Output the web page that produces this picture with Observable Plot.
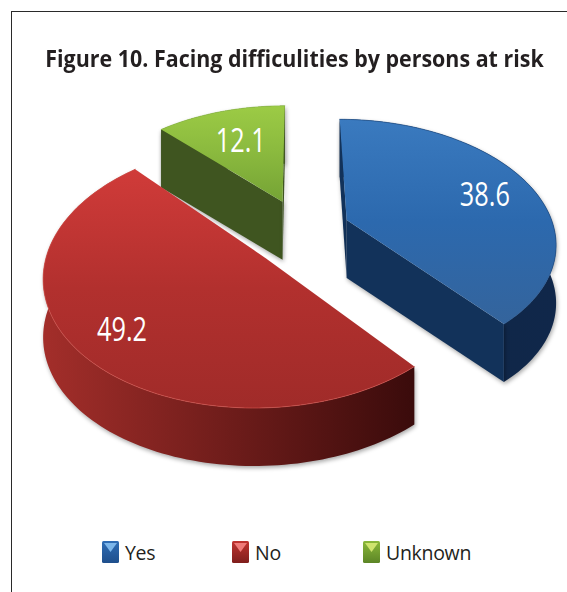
<!DOCTYPE html>
<html>
<head>
<meta charset="utf-8">
<script src="https://cdn.jsdelivr.net/npm/d3@7"></script>
<script src="https://cdn.jsdelivr.net/npm/@observablehq/plot@0.6"></script>
<style>
html,body{margin:0;padding:0;background:#fff;overflow:hidden;width:567px;height:592px}
#frame{position:absolute;left:11px;top:11px;right:0;bottom:0;border-left:1.5px solid #2a2a2a;border-top:1.5px solid #2a2a2a}
#title{position:absolute;left:0;width:589px;top:43px;text-align:center;font:700 24px "Open Sans",sans-serif;color:#231f20;white-space:nowrap;line-height:30px;transform:scaleX(.893);transform-origin:center}
#chart{position:absolute;left:0;top:0}
.lg{position:absolute;top:541px;height:22px;display:flex;align-items:center;font:400 19.5px "Open Sans",sans-serif;color:#231f20;letter-spacing:-.3px}
.lg svg{margin-right:6px}
</style>
</head>
<body>
<div id="frame"></div>
<div id="chart"></div>
<div id="title">Figure 10. Facing difficulities by persons at risk</div>
<div id="legend"></div>
<script>
const categories = ["Yes", "No", "Unknown"];
const shares = [38.6, 49.2, 12.1];
const labels = ["38.6", "49.2", "12.1"];

// Picture styling, one entry per category
const topStops = [["#3a7abf", "#2c69ae", "#34649c"], ["#d03b39", "#b2302e", "#a02b29"], ["#9ccb45", "#8ab93e", "#75a335"]];
const wallStops = [["#0f2745", "#10274a"], ["#a32e2a", "#3a0b0b"], ["#3f5520", "#3f5520"]];
const faceColors = ["#12325a", "#4a1010", "#3f5520"];
const edgeColors = ["#1f4f88", "#d0504a", "#8fbf44"];
const swatchColors = [["#2f6db5", "#1f4f8c", "#7cb6ea"], ["#c0332f", "#7f1e1c", "#ef7a78"], ["#8bb83a", "#5c8526", "#cfe46e"]];

// Layout of the exploded pie in its ground plane
const explode = [[0.235, -0.06], [-0.17, 0.2], [-0.08, -0.22]];
const apexNudge = [[0, 0], [0.02, 0.05], [0, 0]];
const labelRadius = [0.75, 0.78, 0.64];
const labelShift = [3, 5, 0];
const hasFaces = [true, false, true];
const cx = 298, cy = 226.6, rx = 207, ry = 120, persp = 0.17, depth = 58, warp = 2;

const total = d3.sum(shares);
const project = (gx, gy, drop = 0) => {
  const w = 1 - persp * gy;
  return {x: cx + rx * gx / w, y: cy + ry * gy / w + drop};
};
const warped = (deg) => deg + warp * Math.max(0, Math.sin(deg * Math.PI / 180));
const rimPoint = (i, deg, r = 1, drop = 0) => {
  const a = warped(deg) * Math.PI / 180;
  return project(explode[i][0] + r * Math.sin(a), explode[i][1] - r * Math.cos(a), drop);
};
const apex = (i, drop = 0) => project(explode[i][0] + apexNudge[i][0], explode[i][1] + apexNudge[i][1], drop);

let acc = 0;
const slices = shares.map((v, i) => {
  const start = acc / total * 360;
  acc += v;
  return {i, start, end: acc / total * 360};
});
const arc = (s, drop = 0) => d3.range(0, 121).map(k => rimPoint(s.i, s.start + (s.end - s.start) * k / 120, 1, drop));

const poly = (points, fill, extra = {}) =>
  Plot.line(points, {x: "x", y: "y", curve: "linear-closed", fill, stroke: "none", ...extra});

const shadow = "drop-shadow(1px 2px 2px rgba(0,0,0,.35))";
const marks = [];
marks.push(() => {
  const defs = d3.create("svg:defs");
  categories.forEach((c, i) => {
    const t = defs.append("linearGradient").attr("id", "top" + i).attr("x1", 0).attr("x2", 0).attr("y1", 0).attr("y2", 1);
    topStops[i].forEach((col, k) => t.append("stop").attr("offset", k / 2).attr("stop-color", col));
    const w = defs.append("linearGradient").attr("id", "wall" + i).attr("x1", 0).attr("x2", 1).attr("y1", 0).attr("y2", 0);
    wallStops[i].forEach((col, k) => w.append("stop").attr("offset", k).attr("stop-color", col));
  });
  return defs.node();
});
[2, 0, 1].forEach(i => {
  const s = slices[i];
  const top = arc(s);
  const bottom = arc(s, depth);
  marks.push(poly([...top, ...bottom.slice().reverse()], `url(#wall${i})`, {imageFilter: shadow}));
  if (hasFaces[i]) [s.start, s.end].forEach(deg => {
    marks.push(poly([apex(i), rimPoint(i, deg), rimPoint(i, deg, 1, depth), apex(i, depth)], faceColors[i], {imageFilter: shadow}));
  });
  marks.push(poly([apex(i), ...top], `url(#top${i})`));
  marks.push(Plot.line(top, {x: "x", y: "y", stroke: edgeColors[i], strokeWidth: 1, strokeOpacity: 0.7}));
});
const labelData = slices.map(s => {
  const p = rimPoint(s.i, (s.start + s.end) / 2, labelRadius[s.i]);
  return {x: p.x, y: p.y + labelShift[s.i], text: labels[s.i]};
});
marks.push(Plot.text(labelData, {
  x: "x", y: "y", text: "text", fill: "white", fontSize: 32,
  fontFamily: "'Open Sans', sans-serif", textAnchor: "middle", lineAnchor: "middle"
}));

const plot = Plot.plot({
  width: 567, height: 592,
  margin: 0, marginTop: 0, marginBottom: 0, marginLeft: 0, marginRight: 0,
  x: {domain: [0, 567], range: [0, 567], axis: null},
  y: {domain: [0, 592], range: [0, 592], axis: null},
  style: {background: "transparent"},
  marks
});
d3.select(plot).selectAll("text").attr("textLength", 50).attr("lengthAdjust", "spacingAndGlyphs");
document.getElementById("chart").appendChild(plot);

// legend
const lgX = [102, 232, 363];
const legend = d3.select("#legend");
categories.forEach((c, i) => {
  const d = legend.append("div").attr("class", "lg").style("left", lgX[i] + "px");
  const sv = d.append("svg").attr("width", 17).attr("height", 22);
  const id = "sw" + i;
  const g = sv.append("defs").append("linearGradient").attr("id", id).attr("x1", 0).attr("x2", 0).attr("y1", 0).attr("y2", 1);
  g.append("stop").attr("offset", 0).attr("stop-color", swatchColors[i][0]);
  g.append("stop").attr("offset", 1).attr("stop-color", swatchColors[i][1]);
  sv.append("rect").attr("width", 17).attr("height", 22).attr("rx", 1.5).attr("fill", `url(#${id})`);
  sv.append("path").attr("d", "M2 2H15L8.5 11Z").attr("fill", swatchColors[i][2]);
  d.append("span").text(c);
});
</script>
</body>
</html>
